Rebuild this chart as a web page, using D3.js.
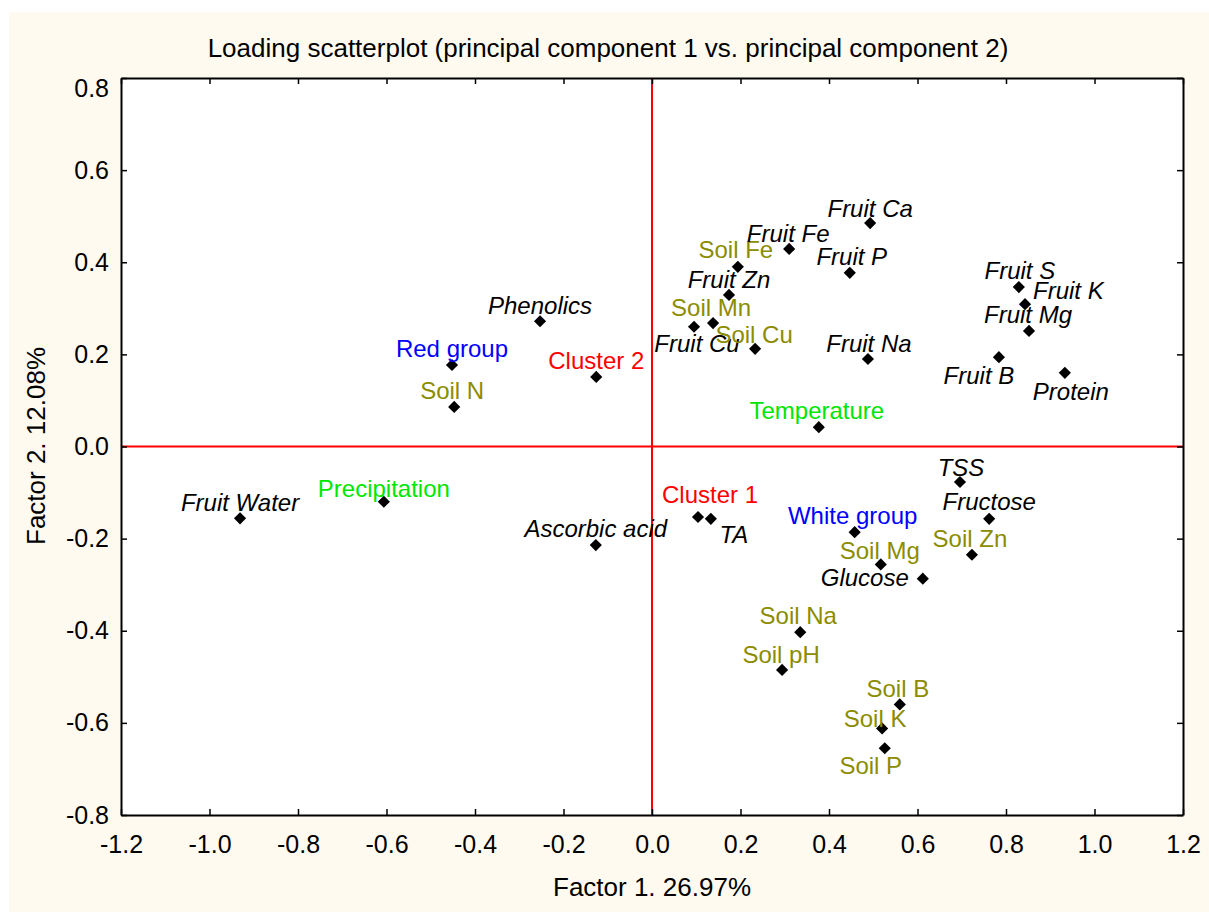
<!DOCTYPE html>
<html lang="en">
<head>
<meta charset="UTF-8">
<title>Loading scatterplot</title>
<script src="https://d3js.org/d3.v7.min.js"></script>
<style>
  body { margin: 0; background: #fff; font-family: Arial, "Liberation Sans", sans-serif; }
  svg text { font-family: Arial, "Liberation Sans", sans-serif; }
  .axis path { stroke: #000; stroke-width: 2; }
  .axis line { stroke: #000; stroke-width: 1.5; }
  .axis text { font-size: 25px; fill: #000; }
</style>
</head>
<body>
<svg id="chart" width="1209" height="912"></svg>
<script>
  // variable names and their loadings on PC1 / PC2
  const names = [
    "Fruit Water", "Precipitation", "Red group", "Soil N", "Phenolics", "Cluster 2",
    "Ascorbic acid", "Cluster 1", "TA", "Soil Fe", "Fruit Zn", "Fruit Fe", "Soil Mn",
    "Fruit Cu", "Soil Cu", "Fruit Ca", "Fruit P", "Fruit Na", "Temperature", "Fruit S",
    "Fruit K", "Fruit Mg", "Fruit B", "Protein", "TSS", "Fructose", "White group",
    "Soil Zn", "Soil Mg", "Glucose", "Soil Na", "Soil pH", "Soil B", "Soil K", "Soil P"
  ];
  const pc1 = [
    -0.931, -0.606, -0.452, -0.447, -0.253, -0.126,
    -0.127, 0.104, 0.133, 0.194, 0.174, 0.310, 0.138,
    0.095, 0.233, 0.493, 0.447, 0.488, 0.377, 0.829,
    0.843, 0.852, 0.784, 0.933, 0.696, 0.762, 0.458,
    0.723, 0.517, 0.612, 0.335, 0.294, 0.560, 0.520, 0.526
  ];
  const pc2 = [
    -0.156, -0.120, 0.177, 0.086, 0.272, 0.151,
    -0.214, -0.153, -0.157, 0.390, 0.329, 0.429, 0.268,
    0.260, 0.212, 0.485, 0.377, 0.190, 0.042, 0.346,
    0.309, 0.251, 0.194, 0.160, -0.077, -0.157, -0.186,
    -0.235, -0.256, -0.287, -0.403, -0.485, -0.560, -0.612, -0.655
  ];
  // kind of variable: fruit (black italic), soil, climate, group, cluster
  const kinds = [
    "fruit", "climate", "group", "soil", "fruit", "cluster",
    "fruit", "cluster", "fruit", "soil", "fruit", "fruit", "soil",
    "fruit", "soil", "fruit", "fruit", "fruit", "climate", "fruit",
    "fruit", "fruit", "fruit", "fruit", "fruit", "fruit", "group",
    "soil", "soil", "fruit", "soil", "soil", "soil", "soil", "soil"
  ];
  const xTicks = [-1.2, -1.0, -0.8, -0.6, -0.4, -0.2, 0.0, 0.2, 0.4, 0.6, 0.8, 1.0, 1.2];
  const yTicks = [-0.8, -0.6, -0.4, -0.2, 0.0, 0.2, 0.4, 0.6, 0.8];

  const kindColor = { fruit: "#000", soil: "#8c8c00", climate: "#00e600", group: "#0000ff", cluster: "#ff0000" };

  // label placement relative to each point: [dx, dy, anchor]
  const labelPos = {
    "Fruit Water": [0, -7, "middle"], "Precipitation": [0, -5, "middle"],
    "Red group": [0, -8, "middle"], "Soil N": [-2, -8, "middle"],
    "Phenolics": [0, -7, "middle"], "Cluster 2": [0, -8, "middle"],
    "Ascorbic acid": [0, -8, "middle"], "Cluster 1": [12, -14, "middle"],
    "TA": [23, 24, "middle"], "Soil Fe": [-2, -9, "middle"],
    "Fruit Zn": [0, -7, "middle"], "Fruit Fe": [-1, -7, "middle"],
    "Soil Mn": [-2, -7, "middle"], "Fruit Cu": [3, 25, "middle"],
    "Soil Cu": [-1, -6, "middle"], "Fruit Ca": [0, -6, "middle"],
    "Fruit P": [2, -8, "middle"], "Fruit Na": [1, -7, "middle"],
    "Temperature": [-2, -8, "middle"], "Fruit S": [1, -8, "middle"],
    "Fruit K": [8, -5, "start"], "Fruit Mg": [-1, -8, "middle"],
    "Fruit B": [-20, 27, "middle"], "Protein": [6, 27, "middle"],
    "TSS": [1, -6, "middle"], "Fructose": [0, -9, "middle"],
    "White group": [-2, -8, "middle"], "Soil Zn": [-2, -8, "middle"],
    "Soil Mg": [-1, -5, "middle"], "Glucose": [-14, 7, "end"],
    "Soil Na": [-2, -8, "middle"], "Soil pH": [-1, -7, "middle"],
    "Soil B": [-2, -7, "middle"], "Soil K": [-7, -1, "middle"],
    "Soil P": [-14, 26, "middle"]
  };

  const svg = d3.select("#chart");
  const plot = { left: 121, right: 1183, top: 78, bottom: 815 };

  // cream page background
  svg.append("rect").attr("x", 9).attr("y", 12).attr("width", 1200).attr("height", 900).attr("fill", "#fefaef");
  svg.append("rect").attr("x", plot.left).attr("y", plot.top)
    .attr("width", plot.right - plot.left).attr("height", plot.bottom - plot.top).attr("fill", "#fff");

  const x = d3.scaleLinear().domain([-1.2, 1.2]).range([plot.left, plot.right]);
  const y = d3.scaleLinear().domain([-0.8, 0.8]).range([plot.bottom, plot.top]);
  // plain hyphen for negatives, as in the original
  const fmt = d => d3.format(".1f")(d).replace("\u2212", "-");

  // zero lines
  svg.append("line").attr("x1", x(0)).attr("x2", x(0)).attr("y1", plot.top).attr("y2", plot.bottom)
    .attr("stroke", "#ff0000").attr("stroke-width", 2);
  svg.append("line").attr("x1", plot.left).attr("x2", plot.right).attr("y1", y(0)).attr("y2", y(0))
    .attr("stroke", "#ff0000").attr("stroke-width", 2);

  // axes, ticks pointing inward on all four sides
  svg.append("g").attr("class", "axis").attr("transform", `translate(0,${plot.bottom})`)
    .call(d3.axisBottom(x).tickValues(xTicks).tickFormat(fmt).tickSizeInner(-6).tickSizeOuter(0).tickPadding(20));
  svg.append("g").attr("class", "axis").attr("transform", `translate(0,${plot.top})`)
    .call(d3.axisTop(x).tickValues(xTicks).tickFormat("").tickSizeInner(-6).tickSizeOuter(0));
  const yAxis = svg.append("g").attr("class", "axis").attr("transform", `translate(${plot.left},0)`)
    .call(d3.axisLeft(y).tickValues(yTicks).tickFormat(fmt).tickSizeInner(-6).tickSizeOuter(0).tickPadding(12));
  svg.append("g").attr("class", "axis").attr("transform", `translate(${plot.right},0)`)
    .call(d3.axisRight(y).tickValues(yTicks).tickFormat("").tickSizeInner(-6).tickSizeOuter(0));
  // the top label sits a little below its tick
  yAxis.selectAll(".tick text").filter(d => d === 0.8).attr("dy", "0.72em");

  // points
  const pts = names.map((n, i) => ({ name: n, px: pc1[i], py: pc2[i], kind: kinds[i] }));
  const diamond = d3.symbol().type(d3.symbolSquare).size(74);

  svg.append("g").selectAll("path").data(pts).join("path")
    .attr("d", diamond)
    .attr("transform", d => `translate(${x(d.px)},${y(d.py)}) rotate(45)`)
    .attr("fill", "#000");

  svg.append("g").selectAll("text").data(pts).join("text")
    .attr("x", d => x(d.px) + labelPos[d.name][0])
    .attr("y", d => y(d.py) + labelPos[d.name][1])
    .attr("text-anchor", d => labelPos[d.name][2])
    .attr("font-size", 24)
    .attr("font-style", d => d.kind === "fruit" ? "italic" : "normal")
    .attr("fill", d => kindColor[d.kind])
    .text(d => d.name);

  // titles
  svg.append("text").attr("x", 608).attr("y", 57).attr("text-anchor", "middle")
    .attr("font-size", 26).text("Loading scatterplot (principal component 1 vs. principal component 2)");
  svg.append("text").attr("x", 652).attr("y", 896).attr("text-anchor", "middle")
    .attr("font-size", 26).text("Factor 1. 26.97%");
  svg.append("text").attr("transform", "translate(45,446) rotate(-90)").attr("text-anchor", "middle")
    .attr("font-size", 26).text("Factor 2. 12.08%");
</script>
</body>
</html>
